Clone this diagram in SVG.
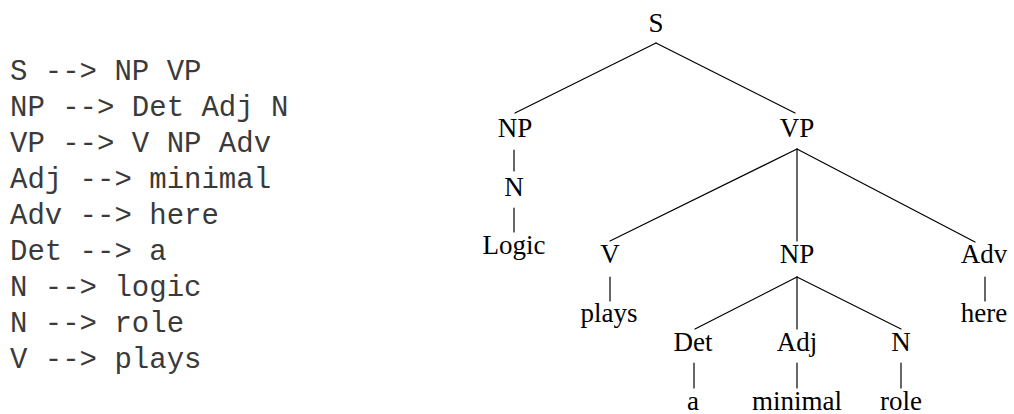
<svg xmlns="http://www.w3.org/2000/svg" width="1014" height="414" viewBox="0 0 1014 414">
  <style>
    .rule { font-family: "Liberation Mono", "Courier New", monospace; font-size: 29px; fill: #3a3a3a; }
    .lab { font-family: "Liberation Serif", "Times New Roman", serif; font-size: 27px; fill: #000; text-anchor: middle; }
    .edge { stroke: #000; stroke-width: 1.2; fill: none; stroke-linecap: round; }
  </style>
  <rect width="1014" height="414" fill="#fff"/>

  <!-- grammar rules -->
  <g id="grammar" class="rule" xml:space="preserve">
    <text x="10" y="80">S --&gt; NP VP</text>
    <text x="10" y="116">NP --&gt; Det Adj N</text>
    <text x="10" y="152">VP --&gt; V NP Adv</text>
    <text x="10" y="188">Adj --&gt; minimal</text>
    <text x="10" y="224">Adv --&gt; here</text>
    <text x="10" y="260">Det --&gt; a</text>
    <text x="10" y="296">N --&gt; logic</text>
    <text x="10" y="332">N --&gt; role</text>
    <text x="10" y="368">V --&gt; plays</text>
  </g>

  <!-- parse tree edges -->
  <g id="edges" class="edge">
    <line x1="656" y1="43" x2="515" y2="113"/>
    <line x1="656" y1="43" x2="795" y2="113"/>
    <line x1="514" y1="150" x2="514" y2="171"/>
    <line x1="514" y1="208" x2="514" y2="232"/>
    <line x1="797" y1="149" x2="610" y2="241"/>
    <line x1="797" y1="149" x2="797" y2="241"/>
    <line x1="797" y1="149" x2="975" y2="242"/>
    <line x1="610" y1="277" x2="610" y2="301"/>
    <line x1="985" y1="277" x2="985" y2="301"/>
    <line x1="797" y1="277" x2="695" y2="329"/>
    <line x1="797" y1="277" x2="797" y2="329"/>
    <line x1="797" y1="277" x2="901" y2="329"/>
    <line x1="694" y1="363" x2="694" y2="388"/>
    <line x1="797" y1="363" x2="797" y2="388"/>
    <line x1="901" y1="363" x2="901" y2="388"/>
  </g>

  <!-- parse tree nodes -->
  <g id="n-S" class="lab"><text x="656" y="32">S</text></g>
  <g id="n-NP1" class="lab"><text x="515" y="137">NP</text></g>
  <g id="n-N1" class="lab"><text x="514" y="196">N</text></g>
  <g id="n-Logic" class="lab"><text x="514" y="254">Logic</text></g>
  <g id="n-VP" class="lab"><text x="797" y="137">VP</text></g>
  <g id="n-V" class="lab"><text x="610" y="263">V</text></g>
  <g id="n-plays" class="lab"><text x="609" y="322">plays</text></g>
  <g id="n-NP2" class="lab"><text x="797" y="263">NP</text></g>
  <g id="n-Adv" class="lab"><text x="984" y="263">Adv</text></g>
  <g id="n-here" class="lab"><text x="984" y="322">here</text></g>
  <g id="n-Det" class="lab"><text x="693" y="351">Det</text></g>
  <g id="n-Adj" class="lab"><text x="797" y="351">Adj</text></g>
  <g id="n-N2" class="lab"><text x="901" y="351">N</text></g>
  <g id="n-a" class="lab"><text x="693" y="410">a</text></g>
  <g id="n-minimal" class="lab"><text x="797" y="410">minimal</text></g>
  <g id="n-role" class="lab"><text x="901" y="410">role</text></g>
</svg>
